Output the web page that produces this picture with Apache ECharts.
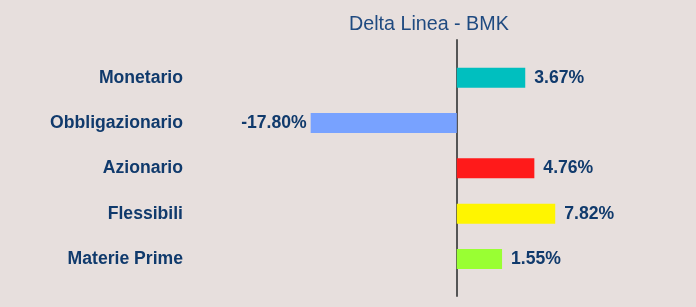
<!DOCTYPE html>
<html><head><meta charset="utf-8">
<script src="https://cdn.jsdelivr.net/npm/echarts@6/dist/echarts.min.js"></script>
<style>html,body{margin:0;padding:0;background:#e7dfdd}#c{width:696px;height:307px}</style>
</head><body><div id="c"></div>
<script>
const categories = ['Monetario', 'Obbligazionario', 'Azionario', 'Flessibili', 'Materie Prime'];
const values = [3.67, -17.80, 4.76, 7.82, 1.55];
const barColors = ['#00bfbf', '#78a2ff', '#ff1a1a', '#fff500', '#99ff33'];
const titleText = 'Delta Linea - BMK';

// the reference draws bar lengths on a compressed (power ~0.48) scale
const scaled = values.map(v => Math.sign(v) * Math.pow(Math.abs(v), 0.48));
const navy = '#103a6c';
const font = "'Liberation Sans', Arial, sans-serif";

const chart = echarts.init(document.getElementById('c'), null, {renderer: 'canvas'});
chart.setOption({
  backgroundColor: '#e7dfdd',
  animation: false,
  title: {
    text: titleText, left: 344, top: 10,
    textStyle: {color: '#1f4a80', fontSize: 19.7, fontWeight: 'normal', fontFamily: font}
  },
  grid: [
    {left: 189, right: 25, top: 55, bottom: 25.3},
    {left: 189, right: 25, top: 40, bottom: 11}
  ],
  xAxis: [
    {gridIndex: 0, type: 'value', min: -7.3, max: 5.84, show: false},
    {gridIndex: 1, type: 'value', min: -7.3, max: 5.84, show: false}
  ],
  yAxis: [
    {gridIndex: 0, type: 'category', data: categories, inverse: true,
     axisLine: {show: false, onZero: false}, axisTick: {show: false}, splitLine: {show: false},
     axisLabel: {margin: 6, color: navy, fontSize: 17.6, fontWeight: 'bold', fontFamily: font}},
    {gridIndex: 1, type: 'category', data: [''],
     axisLine: {show: true, onZero: true, lineStyle: {color: '#555', width: 2}},
     axisTick: {show: false}, axisLabel: {show: false}, splitLine: {show: false}}
  ],
  series: [{
    type: 'bar', xAxisIndex: 0, yAxisIndex: 0, barWidth: 20,
    data: scaled.map((s, i) => ({
      value: s,
      itemStyle: {color: barColors[i]},
      label: {position: values[i] < 0 ? 'left' : 'right', distance: values[i] < 0 ? 4 : 9}
    })),
    label: {
      show: true, color: navy, fontSize: 17.6, fontWeight: 'bold', fontFamily: font,
      formatter: p => values[p.dataIndex].toFixed(2) + '%'
    }
  }]
});
</script></body></html>
